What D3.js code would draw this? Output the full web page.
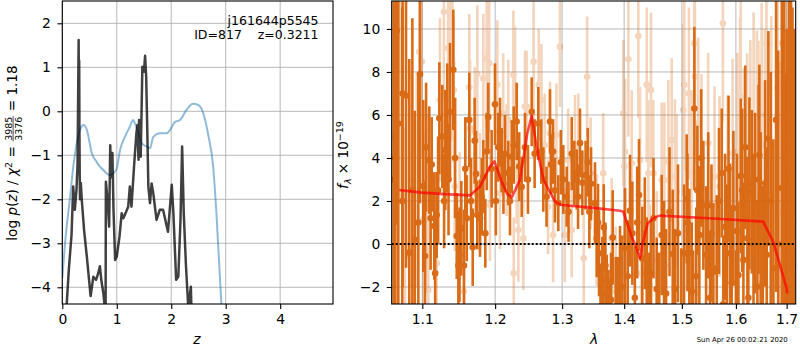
<!DOCTYPE html>
<html>
<head>
<meta charset="utf-8">
<script src="https://cdn.jsdelivr.net/npm/d3@7"></script>
<style>
body { margin: 0; background: #fff; }
text { font-family: "DejaVu Sans", sans-serif; }
</style>
</head>
<body>
<script>
// ---- data: redshift panel ----
const pzZ = [0.08, 0.12, 0.17, 0.20, 0.23, 0.26, 0.28, 0.30, 0.305, 0.31, 0.315, 0.32, 0.325, 0.34, 0.36, 0.40, 0.45, 0.52,
    0.57, 0.62, 0.66, 0.69, 0.72, 0.75, 0.78, 0.795, 0.80, 0.83, 0.86, 0.88, 0.90, 0.92, 0.94, 0.97, 1.00, 1.05,
    1.09, 1.12, 1.16, 1.21, 1.24, 1.27, 1.32, 1.36, 1.38, 1.40, 1.41, 1.43, 1.44, 1.47, 1.50, 1.52, 1.54, 1.56,
    1.58, 1.61, 1.64, 1.67, 1.73, 1.79, 1.85, 1.94, 2.01, 2.04, 2.09, 2.13, 2.17, 2.20, 2.23, 2.27, 2.31, 2.33,
    2.36, 2.37];
const pzLog = [-4.4, -3.6, -2.8, -1.71, -2.24, -1.79, -1.2, 1.62, 0.2, 1.15, -0.5, -1.5, -2.0, -1.63, -2.05, -2.7, -3.3, -4.2,
    -3.76, -3.83, -3.68, -3.52, -3.87, -4.1, -4.45, -4.45, -1.6, -2.0, -2.62, -0.77, -1.5, -0.95, -2.24, -3.38, -3.3, -2.85,
    -2.32, -2.43, -2.32, -2.17, -1.71, -2.17, -1.2, -0.5, -0.31, -1.1, -0.2, -1.0, -1.03, 1.01, 0.9, 1.26, 0.79, -0.4,
    -1.71, -2.09, -1.64, -1.86, -2.47, -2.24, -2.24, -2.74, -1.67, -2.32, -3.83, -3.76, -2.47, -0.8, -2.32, -3.5, -4.4, -4.29,
    -3.99, -4.45];

const chiZ = [0.0, 0.05, 0.10, 0.14, 0.21, 0.29, 0.35, 0.39, 0.45, 0.50, 0.54, 0.63, 0.69, 0.75, 0.81, 0.875, 0.94, 1.0,
    1.06, 1.15, 1.24, 1.30, 1.34, 1.38, 1.46, 1.55, 1.61, 1.67, 1.79, 1.92, 1.98, 2.07, 2.16, 2.28, 2.40, 2.50,
    2.59, 2.68, 2.77, 2.83, 2.92, 2.95];
const chiLog = [-3.79, -3.0, -2.4, -1.98, -1.18, -0.58, -0.35, -0.31, -0.42, -0.7, -0.95, -1.15, -1.26, -1.33, -1.41, -1.45, -1.41, -1.3,
    -0.88, -0.58, -0.35, -0.2, -0.3, -0.42, -0.73, -0.8, -0.84, -0.58, -0.5, -0.5, -0.42, -0.24, -0.2, 0.03, 0.17, 0.14,
    -0.05, -0.54, -1.26, -2.32, -4.36, -4.9];

// ---- data: spectrum panel ----
const darkWave = [1.0630, 1.0669, 1.0689, 1.0740, 1.0788, 1.0830, 1.0901, 1.0970, 1.1013, 1.1036, 1.1092, 1.1124, 1.1159, 1.1170,
    1.1191, 1.1226, 1.1266, 1.1306, 1.1333, 1.1370, 1.1415, 1.1462, 1.1484, 1.1525, 1.1562, 1.1600, 1.1635, 1.1683,
    1.1729, 1.1747, 1.1785, 1.1832, 1.1880, 1.1902, 1.1998, 1.2046, 1.2094, 1.2142, 1.2190, 1.2240, 1.2313, 1.2387,
    1.2436, 1.2536, 1.2635, 1.2711, 1.2813, 1.2829, 1.2890, 1.2941, 1.3019, 1.3072, 1.3150, 1.3191, 1.3229, 1.3281,
    1.3318, 1.3404, 1.3457, 1.3521, 1.3549, 1.3586, 1.3640, 1.3650, 1.3663, 1.3712, 1.3740, 1.3782, 1.3860, 1.3931,
    1.4015, 1.4099, 1.4138, 1.4251, 1.4307, 1.4383, 1.4457, 1.4556, 1.4643, 1.4684, 1.4719, 1.4837, 1.4878, 1.5039,
    1.5087, 1.5134, 1.5177, 1.5200, 1.5225, 1.5280, 1.5316, 1.5390, 1.5440, 1.5514, 1.5575, 1.5638, 1.5732, 1.5794,
    1.5827, 1.5889, 1.5952, 1.6000, 1.6048, 1.6094, 1.6144, 1.6221, 1.6260, 1.6307, 1.6371, 1.6416, 1.6455, 1.6522,
    1.6568, 1.6633, 1.6733, 1.6787, 1.6902, 1.6989, 1.7050, 1.7120,
    1.0651, 1.0744, 1.0870, 1.0948, 1.1050, 1.1110, 1.1210, 1.1290, 1.1350, 1.1440, 1.1500, 1.1580, 1.1660, 1.1710,
    1.1810, 1.1860, 1.1950, 1.2010, 1.2070, 1.2120, 1.2215, 1.2270, 1.2350, 1.2480, 1.2580, 1.2680, 1.2760, 1.2860,
    1.2980, 1.3100, 1.3250, 1.3370, 1.3430, 1.3570, 1.3610, 1.3690, 1.3760, 1.3810, 1.3900, 1.3970, 1.4060, 1.4180,
    1.4220, 1.4350, 1.4420, 1.4500, 1.4600, 1.4780, 1.4930, 1.4990, 1.5100, 1.5260, 1.5350, 1.5480, 1.5540, 1.5680,
    1.5760, 1.5860, 1.5920, 1.6020, 1.6120, 1.6180, 1.6240, 1.6340, 1.6440, 1.6480, 1.6600, 1.6680, 1.6830, 1.6950,
    1.7000, 1.7090, 1.7150];
const darkFlux = [3.0, 9.9, 5.6, 2.0, 6.9, -0.4, 0.2, 7.9, 2.7, -0.56, 3.9, 3.7, 0.84, -1.36,
    1.35, 5.85, 5.0, 4.37, 5.4, 6.15, 8.1, 0.37, -1.0, 0.73, -1.0, 1.2, 5.77, -0.15,
    3.26, 1.35, 1.2, 3.13, 4.3, 5.9, 6.5, 4.5, 3.9, 4.2, 3.3, 4.06, 5.7, 2.66,
    4.5, 6.15, 5.6, 3.0, 5.7, 3.7, 2.5, 1.9, 3.0, 2.2, 4.2, 3.3, 3.0, 4.7,
    2.85, 3.8, 2.8, 1.9, 0.26, -0.43, -1.67, -3.4, 0.78, -2.3, -3.6, -2.6, -3.2, -1.36,
    -0.2, 1.55, 0.5, 2.28, -0.67, -1.36, -1.36, -2.1, 0.42, -1.0, -2.3, -0.47, -2.1, -0.43,
    2.1, -0.43, -2.2, -3.3, 6.3, 2.5, 0.42, 1.8, -0.51, -2.5, -1.29, -1.13, 3.3, 0.8,
    -0.43, 0.34, 1.66, -3.5, -1.44, 3.16, -0.74, 0.26, 2.82, 2.43, 1.9, -1.99, 4.14, -1.8,
    2.82, 4.9, -1.13, 5.77, 2.6, -2.1, 3.0, 1.0,
    4.0, 7.0, 2.5, 1.0, 4.5, 1.2, 2.5, 2.0, 3.0, 4.0, -0.5, 3.5, 2.0, 4.8,
    2.2, 0.5, 3.5, 2.0, 5.2, 2.8, 2.0, 4.6, 3.6, 3.0, 4.2, 4.3, 2.2, 4.3,
    3.8, 1.5, 2.2, 3.2, 1.5, 1.0, -2.9, -1.0, -3.8, 0.3, -3.0, -2.0, -1.5, -2.5,
    1.0, 0.5, -3.0, 1.2, -3.2, 1.5, 0.5, -3.2, 1.0, -1.5, 4.0, 1.8, 0.5, 2.0,
    -2.8, 3.5, -1.8, 0.6, 2.5, 4.5, -2.5, 0.0, 3.0, 0.8, -0.5, 2.0, 0.0, 4.0,
    0.0, 5.0, -1.0];
const darkErr = [10, 9, 10, 9, 8, 9, 6, 6, 4, 3.5, 2.5, 2.2, 2.5, 2.8,
    2.0, 2.6, 2.4, 2.8, 3.0, 3.2, 2.8, 2.0, 2.5, 2.2, 2.6, 2.0, 2.2, 1.8,
    2.0, 1.6, 1.8, 1.7, 1.8, 1.6, 1.9, 1.6, 1.5, 1.8, 1.5, 1.7, 1.8, 1.4,
    1.6, 1.6, 1.7, 1.5, 1.5, 1.4, 1.5, 1.3, 1.6, 1.4, 1.7, 1.5, 1.4, 1.6,
    1.5, 1.6, 1.7, 1.9, 1.8, 2.0, 2.0, 2.5, 2.0, 1.8, 2.4, 2.2, 2.6, 2.2,
    2.8, 2.6, 2.4, 2.6, 2.4, 2.6, 2.5, 2.4, 2.8, 3.0, 3.0, 3.0, 2.8, 3.2,
    3.0, 3.0, 3.2, 3.0, 3.8, 3.0, 3.2, 3.0, 3.2, 3.0, 3.2, 3.4, 3.0, 3.4,
    3.2, 3.4, 3.6, 3.2, 3.4, 3.6, 3.6, 3.8, 4.0, 3.8, 4.2, 4.0, 4.2, 4.5,
    4.8, 5.0, 6, 8, 9, 10, 10, 10,
    10, 9, 8, 7, 3, 2.4, 2.5, 2.2, 2.6, 2.8, 2.2, 2.4, 2.0, 2.0,
    1.8, 1.6, 1.8, 1.6, 1.6, 1.4, 1.6, 1.8, 1.6, 1.6, 1.6, 1.5, 1.4, 1.5,
    1.5, 1.4, 1.5, 1.6, 1.7, 1.8, 2.0, 2.0, 2.2, 2.2, 2.4, 2.4, 2.6, 2.4,
    2.6, 2.6, 2.6, 2.8, 2.8, 3.0, 3.2, 3.0, 3.2, 3.2, 3.2, 3.4, 3.2, 3.4,
    3.2, 3.4, 3.6, 3.6, 3.8, 3.8, 4.0, 4.2, 4.4, 4.4, 5.0, 6, 9, 10,
    10, 11, 11];

const lightWave = [1.0650, 1.0710, 1.0775, 1.0861, 1.0927, 1.0961, 1.0992, 1.1013, 1.1058, 1.1079, 1.1191, 1.1234, 1.1287,
    1.1344, 1.1377, 1.1403, 1.1421, 1.1434, 1.1501, 1.1560, 1.1635, 1.1646, 1.1712, 1.1747, 1.1785, 1.1832, 1.1880,
    1.1916, 1.1926, 1.2031, 1.2068, 1.2116, 1.2166, 1.2190, 1.2265, 1.2270, 1.2288, 1.2313, 1.2338, 1.2412, 1.2436,
    1.2460, 1.2565, 1.2642, 1.2683, 1.2733, 1.2783, 1.2813, 1.2861, 1.2912, 1.2965, 1.3040, 1.3093, 1.3150, 1.3202,
    1.3255, 1.3340, 1.3394, 1.3450, 1.3549, 1.3654, 1.3793, 1.3860, 1.3986, 1.4003, 1.4015, 1.4071, 1.4127, 1.4239,
    1.4268, 1.4286, 1.4383, 1.4411, 1.4439, 1.4457, 1.4497, 1.4556, 1.4643, 1.4690, 1.4759, 1.4819, 1.4876, 1.4880,
    1.4905, 1.5025, 1.5043, 1.5126, 1.5174, 1.5222, 1.5235, 1.5240, 1.5296, 1.5356, 1.5478, 1.5597, 1.5690, 1.5753,
    1.5844, 1.5937, 1.6030, 1.6079, 1.6092, 1.6154, 1.6216, 1.6279, 1.6342, 1.6405, 1.6436, 1.6500, 1.6563, 1.6595,
    1.6691, 1.6818, 1.6851, 1.6915, 1.7000];
const lightFlux = [5.0, 9.87, -0.59, 2.98, 2.98, 8.94, 8.48, 1.12, 2.05, -2.14, -0.9, 6.7, 10.8,
    9.1, 11.0, 8.4, 7.16, 2.67, 1.27, -2.2, 7.29, 5.38, 5.22, 7.9, 2.36, 7.7, 8.63,
    8.4, 1.81, 7.4, 2.36, 6.07, 3.9, 5.77, 7.86, -1.36, 7.32, 3.44, 0.65, 0.26, 6.39,
    6.39, 8.48, 7.4, 6.7, 4.6, 1.73, 5.15, 0.42, 5.07, 9.17, 0.42, 3.9, 0.65, 4.53,
    4.6, -0.66, 7.78, 3.29, 0.65, 3.29, 0.26, -2.2, 6.08, 3.6, 4.29, 8.59, 3.75, 9.67,
    3.9, -1.36, 7.4, 3.29, -1.36, 7.16, 3.29, -0.74, 2.98, 2.98, 3.83, 4.84, 3.13, -2.6,
    2.43, 6.23, 7.4, 7.0, 3.36, 9.33, 7.78, -2.3, 5.6, 3.9, 4.68, 3.13, 2.67, 10.26,
    2.51, 4.22, 4.29, 5.92, 6.85, 3.6, 4.06, 4.68, 5.77, 4.92, 4.45, 6.0, 4.6, 9.33,
    4.6, 7.26, 1.5, 9.33, 3.0];
const lightErr = [9, 8, 6, 5, 5, 4.5, 4.5, 4, 4, 3.5, 3.5, 3.8, 4,
    3.8, 4, 3.6, 3.4, 3, 3, 3, 3.4, 3.2, 3.0, 3.2, 2.8, 3.0, 3.2,
    3.2, 2.6, 3.0, 2.6, 2.8, 2.6, 2.8, 3.0, 2.6, 2.8, 2.5, 2.4, 2.4, 2.6,
    2.6, 2.8, 2.6, 2.6, 2.4, 2.2, 2.4, 2.2, 2.4, 2.8, 2.2, 2.4, 2.2, 2.4,
    2.4, 2.4, 2.8, 2.6, 2.6, 2.8, 2.8, 3.0, 3.4, 3.4, 3.4, 3.6, 3.4, 3.8,
    3.4, 3.2, 3.6, 3.4, 3.2, 3.6, 3.4, 3.2, 3.6, 3.6, 3.8, 3.8, 3.6, 3.4,
    3.6, 4.0, 4.0, 4.0, 3.8, 4.2, 4.0, 3.6, 4.0, 4.0, 4.2, 4.2, 4.2, 4.6,
    4.4, 4.4, 4.6, 4.6, 4.6, 4.6, 4.8, 4.8, 5.0, 5.0, 5.0, 5.2, 5.4, 5.6,
    6, 7, 7, 8, 9];

const modelWave = [1.0702, 1.0992, 1.13, 1.1646, 1.1785, 1.1926, 1.1990, 1.2094, 1.218, 1.224, 1.2362, 1.2470, 1.2536,
    1.2611, 1.2711, 1.289, 1.2993, 1.35, 1.3932, 1.3986, 1.4127, 1.4200, 1.4268, 1.4300, 1.4400, 1.4530, 1.4610,
    1.55, 1.6530, 1.6730, 1.7000, 1.7010];
const modelFlux = [2.51, 2.39, 2.32, 2.26, 2.67, 3.6, 3.85, 2.9, 2.3, 2.17, 2.98, 5.15, 5.95,
    4.5, 3.0, 1.97, 1.81, 1.68, 1.55, 1.5, 0.34, -0.12, -0.67, -0.12, 0.96, 1.25, 1.32,
    1.2, 1.04, 0.1, -2.06, -2.3];

// ---- ticks ----
const zTicks = [0, 1, 2, 3, 4];
const pTicks = [-4, -3, -2, -1, 0, 1, 2];
const wTicks = [1.1, 1.2, 1.3, 1.4, 1.5, 1.6, 1.7];
const fTicks = [-2, 0, 2, 4, 6, 8, 10];

const orange = "#d8650c";
const fmt = d => (d < 0 ? "\u2212" + Math.abs(d) : "" + d);

const svg = d3.select("body").append("svg")
    .attr("width", 800)
    .attr("height", 350);

// panel boxes
const left = {x0: 62.3, x1: 333, y0: 1, y1: 304};
const right = {x0: 391.7, x1: 795.7, y0: 1, y1: 304};

const xz = d3.scaleLinear().domain([0, 4.97]).range([left.x0, left.x1]);
const yp = d3.scaleLinear().domain([-4.38, 2.507]).range([left.y1, left.y0]);
const xw = d3.scaleLog().domain([1.0605, 1.7185]).range([right.x0, right.x1]);
const yf = d3.scaleLinear().domain([-2.79, 11.3]).range([right.y1, right.y0]);

const defs = svg.append("defs");
[["clipL", left], ["clipR", right]].forEach(function (c) {
    defs.append("clipPath").attr("id", c[0]).append("rect")
        .attr("x", c[1].x0).attr("y", c[1].y0)
        .attr("width", c[1].x1 - c[1].x0).attr("height", c[1].y1 - c[1].y0);
});

function drawGrid(box, xs, ys, xt, yt) {
    const g = svg.append("g");
    g.selectAll(".gx").data(xt).enter().append("line")
        .attr("x1", d => xs(d)).attr("x2", d => xs(d))
        .attr("y1", box.y0).attr("y2", box.y1)
        .attr("stroke", "#b0b0b0").attr("stroke-width", 0.9);
    g.selectAll(".gy").data(yt).enter().append("line")
        .attr("x1", box.x0).attr("x2", box.x1)
        .attr("y1", d => ys(d)).attr("y2", d => ys(d))
        .attr("stroke", "#b0b0b0").attr("stroke-width", 0.9);
}

function drawAxes(box, xs, ys, xt, yt) {
    const ax = svg.append("g")
        .attr("transform", "translate(0," + box.y1 + ")")
        .call(d3.axisBottom(xs).tickValues(xt).tickFormat(fmt).tickSize(4.9).tickPadding(5.5));
    const ay = svg.append("g")
        .attr("transform", "translate(" + box.x0 + ",0)")
        .call(d3.axisLeft(ys).tickValues(yt).tickFormat(fmt).tickSize(4.9).tickPadding(6.5));
    [ax, ay].forEach(function (a) {
        a.select(".domain").remove();
        a.selectAll("line").attr("stroke", "#000").attr("stroke-width", 1.1);
        a.selectAll("text").attr("font-size", "13.9px").attr("fill", "#000")
            .style("font-family", "DejaVu Sans");
    });
    svg.append("rect")
        .attr("x", box.x0).attr("y", box.y0)
        .attr("width", box.x1 - box.x0).attr("height", box.y1 - box.y0)
        .attr("fill", "none").attr("stroke", "#000").attr("stroke-width", 1.1);
}

// ---- left panel ----
drawGrid(left, xz, yp, zTicks, pTicks);

const gl = svg.append("g").attr("clip-path", "url(#clipL)");
const chiLine = d3.line().x(d => xz(d[0])).y(d => yp(d[1])).curve(d3.curveMonotoneX);
gl.append("path")
    .attr("d", chiLine(d3.zip(chiZ, chiLog)))
    .attr("fill", "none").attr("stroke", "#1f77b4").attr("stroke-opacity", 0.5)
    .attr("stroke-width", 2);
const pzLine = d3.line().x(d => xz(d[0])).y(d => yp(d[1]));
gl.append("path")
    .attr("d", pzLine(d3.zip(pzZ, pzLog)))
    .attr("fill", "none").attr("stroke", "#000").attr("stroke-opacity", 0.75)
    .attr("stroke-width", 2.5).attr("stroke-linejoin", "round");

drawAxes(left, xz, yp, zTicks, pTicks);

svg.append("text").attr("x", 318.5).attr("y", 25)
    .attr("text-anchor", "end").attr("font-size", "12.5px").text("j161644p5545");
svg.append("text").attr("x", 318.5).attr("y", 39.3)
    .attr("text-anchor", "end").attr("font-size", "12.5px").attr("xml:space", "preserve")
    .text("ID=817    z=0.3211");

svg.append("text").attr("x", 197).attr("y", 344)
    .attr("text-anchor", "middle").attr("font-size", "13.9px").attr("font-style", "italic").text("z");

// y label with fraction
const yl = svg.append("g").attr("transform", "translate(17,153) rotate(-90)");
let cx = 0;
function piece(str, opts) {
    opts = opts || {};
    const t = yl.append("text").attr("x", cx).attr("y", opts.dy || 0)
        .attr("font-size", (opts.size || 13.6) + "px")
        .attr("xml:space", "preserve")
        .text(str);
    if (opts.italic) t.attr("font-style", "italic");
    const w = t.node().getComputedTextLength();
    if (!opts.noAdvance) cx += w;
    return {t: t, w: w};
}
piece("log ");
piece("p", {italic: true});
piece("(");
piece("z", {italic: true});
piece(") / ");
piece("\u03c7", {italic: true});
piece("2", {size: 9.5, dy: -5.5});
piece(" = ");
const fx = cx;
const num = piece("3985", {size: 9.5, dy: -5.2, noAdvance: true});
const den = piece("3376", {size: 9.5, dy: 4.6, noAdvance: true});
const fw = Math.max(num.w, den.w);
num.t.attr("x", fx + (fw - num.w) / 2 + 1);
den.t.attr("x", fx + (fw - den.w) / 2 + 1);
yl.append("line").attr("x1", fx + 0.5).attr("x2", fx + fw + 1.5)
    .attr("y1", -3.9).attr("y2", -3.9).attr("stroke", "#000").attr("stroke-width", 0.7);
cx += fw + 2;
piece(" = 1.18");
const total = cx;
yl.selectAll("text").each(function () {
    const s = d3.select(this);
    s.attr("x", +s.attr("x") - total / 2);
});
yl.selectAll("line").each(function () {
    const s = d3.select(this);
    s.attr("x1", +s.attr("x1") - total / 2).attr("x2", +s.attr("x2") - total / 2);
});

// ---- right panel ----
drawGrid(right, xw, yf, wTicks, fTicks);

const gr = svg.append("g").attr("clip-path", "url(#clipR)");

const light = d3.zip(lightWave, lightFlux, lightErr);
const dark = d3.zip(darkWave, darkFlux, darkErr);

const gLight = gr.append("g").attr("opacity", 0.28);
gLight.selectAll("line").data(light).enter().append("line")
    .attr("x1", d => xw(d[0])).attr("x2", d => xw(d[0]))
    .attr("y1", d => yf(d[1] - d[2])).attr("y2", d => yf(d[1] + d[2]))
    .attr("stroke", orange).attr("stroke-width", 2.6);
gLight.selectAll("circle").data(light).enter().append("circle")
    .attr("cx", d => xw(d[0])).attr("cy", d => yf(d[1])).attr("r", 3.3)
    .attr("fill", orange);

const gDark = gr.append("g").attr("opacity", 0.95);
gDark.selectAll("line").data(dark).enter().append("line")
    .attr("x1", d => xw(d[0])).attr("x2", d => xw(d[0]))
    .attr("y1", d => yf(d[1] - d[2])).attr("y2", d => yf(d[1] + d[2]))
    .attr("stroke", orange).attr("stroke-width", 2.6);
gDark.selectAll("circle").data(dark).enter().append("circle")
    .attr("cx", d => xw(d[0])).attr("cy", d => yf(d[1])).attr("r", 3.3)
    .attr("fill", orange);

gr.append("line")
    .attr("x1", right.x0).attr("x2", right.x1)
    .attr("y1", yf(0)).attr("y2", yf(0))
    .attr("stroke", "#000").attr("stroke-width", 2).attr("stroke-dasharray", "2,2");

const modelLine = d3.line().x(d => xw(d[0])).y(d => yf(d[1]));
gr.append("path")
    .attr("d", modelLine(d3.zip(modelWave, modelFlux)))
    .attr("fill", "none").attr("stroke", "red").attr("stroke-opacity", 0.7)
    .attr("stroke-width", 2.6).attr("stroke-linejoin", "round");

drawAxes(right, xw, yf, wTicks, fTicks);

svg.append("text").attr("x", 594).attr("y", 344)
    .attr("text-anchor", "middle").attr("font-size", "13.9px").attr("font-style", "italic").text("\u03bb");

const fl = svg.append("text").attr("transform", "translate(348,155) rotate(-90)")
    .attr("text-anchor", "middle").attr("font-size", "13.6px");
fl.append("tspan").attr("font-style", "italic").text("f");
fl.append("tspan").attr("font-style", "italic").attr("font-size", "9.5px").attr("dy", 3).text("\u03bb");
fl.append("tspan").attr("dy", -3).text(" \u00d7 10");
fl.append("tspan").attr("font-size", "9.5px").attr("dy", -5.5).text("\u221219");

svg.append("text").attr("x", 787.7).attr("y", 341.7)
    .attr("text-anchor", "end").attr("font-size", "6.9px").text("Sun Apr 26 00:02:21 2020");
</script>
</body>
</html>
